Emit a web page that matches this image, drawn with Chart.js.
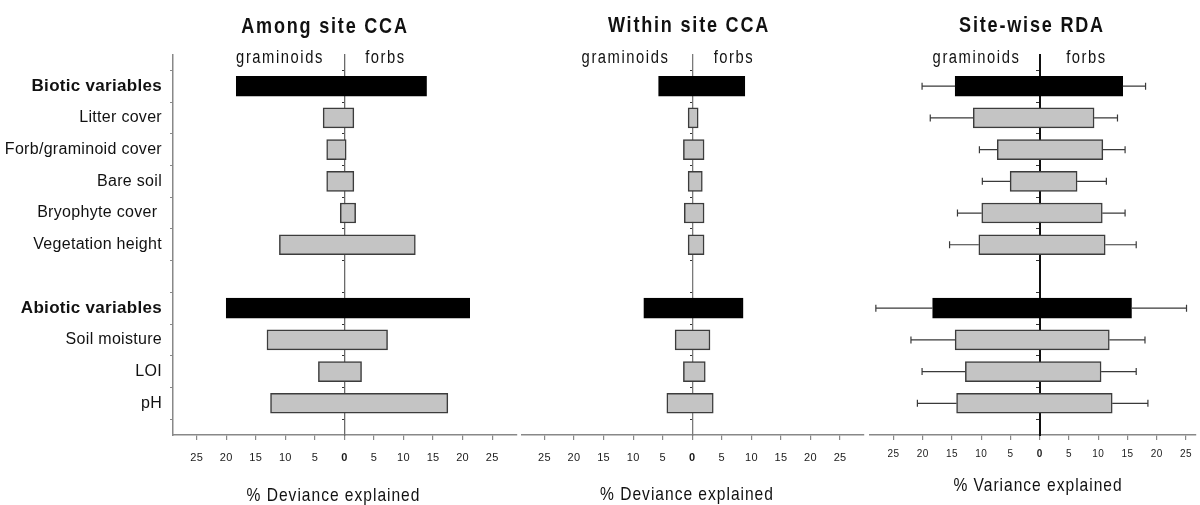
<!DOCTYPE html>
<html><head><meta charset="utf-8">
<script src="https://cdn.jsdelivr.net/npm/chart.js@4"></script>
<style>
html,body{margin:0;padding:0;background:#fff;width:1200px;height:505px;overflow:hidden}
.p{position:absolute;top:0;height:505px}
</style></head><body>
<div class="p" style="left:0;width:520px"><canvas id="c1"></canvas></div>
<div class="p" style="left:518px;width:350px"><canvas id="c2"></canvas></div>
<div class="p" style="left:866px;width:334px"><canvas id="c3"></canvas></div>
<script>
// ---------- data ----------
const categories = ['', 'Biotic variables', 'Litter cover', 'Forb/graminoid cover', 'Bare soil', 'Bryophyte cover ', 'Vegetation height', '', 'Abiotic variables', 'Soil moisture', 'LOI', 'pH', ''];
const groupRows = ['Biotic variables', 'Abiotic variables'];
const amongGram  = [null, 18.3, 3.6, 3.0, 3.0, 0.7, 11.0, null, 20.0, 13.1, 4.4, 12.5, null];
const amongForb  = [null, 13.9, 1.6, 0.3, 1.6, 1.9, 12.0, null, 21.2, 7.3, 2.9, 17.5, null];
const withinGram = [null, 5.7, 0.7, 1.5, 0.7, 1.35, 0.7, null, 8.2, 2.9, 1.5, 4.3, null];
const withinForb = [null, 8.9, 1.0, 2.0, 1.7, 2.0, 2.0, null, 8.6, 3.0, 2.2, 3.55, null];
const rdaGram    = [null, 14.45, 11.35, 7.25, 5.05, 9.9, 10.4, null, 18.3, 14.45, 12.7, 14.2, null];
const rdaForb    = [null, 14.2, 9.3, 10.8, 6.4, 10.7, 11.2, null, 15.7, 11.9, 10.5, 12.4, null];
const rdaGramErr = [null, 20.1, 18.7, 10.3, 9.8, 14.05, 15.4, null, 28.0, 22.0, 20.1, 20.9, null];
const rdaForbErr = [null, 18.1, 13.3, 14.6, 11.4, 14.6, 16.5, null, 25.1, 18.0, 16.5, 18.5, null];
const xTicks = [-25, -20, -15, -10, -5, 0, 5, 10, 15, 20, 25];
const panelTitles = ['Among site CCA', 'Within site CCA', 'Site-wise RDA'];
const sideLabels = ['graminoids', 'forbs'];
const axisTitles = ['% Deviance explained', '% Deviance explained', '% Variance explained'];

// ---------- helpers ----------
const FAM = "'Liberation Sans', Arial, sans-serif";
const NARROW = 0.82;
const isGroup = i => groupRows.includes(categories[i]);
const pairs = (g, f) => categories.map((c, i) => g[i] == null ? null : [-g[i], f[i]]);

const spacingPlugin = {
  id: 'spacing',
  beforeDraw(chart, args, opts) { chart.ctx.letterSpacing = (opts.ls || 0) + 'px'; }
};
const textPlugin = {
  id: 'panelText',
  afterDraw(chart, args, opts) {
    const ctx = chart.ctx;
    (opts.items || []).forEach(it => {
      ctx.save();
      ctx.letterSpacing = it.ls + 'px';
      ctx.font = (it.bold ? 'bold ' : '') + it.size + 'px ' + FAM;
      ctx.fillStyle = '#111';
      ctx.textAlign = 'center';
      ctx.textBaseline = 'alphabetic';
      ctx.translate(it.x, it.y);
      ctx.scale(NARROW, 1);
      ctx.fillText(it.text, 0, 0);
      ctx.restore();
    });
  }
};
const errPlugin = {
  id: 'errorBars',
  afterDatasetsDraw(chart, args, opts) {
    if (!opts.low) return;
    const ctx = chart.ctx, xs = chart.scales.x, ys = chart.scales.y;
    ctx.save();
    ctx.strokeStyle = '#3a3a3a';
    ctx.lineWidth = 1.2;
    categories.forEach((c, i) => {
      if (opts.low[i] == null) return;
      const y = ys.getPixelForValue(i);
      const segs = [[-opts.barLow[i], -opts.low[i]], [opts.barHigh[i], opts.high[i]]];
      segs.forEach(([a, b]) => {
        const xa = xs.getPixelForValue(a), xb = xs.getPixelForValue(b);
        ctx.beginPath();
        ctx.moveTo(xa, y); ctx.lineTo(xb, y);
        ctx.moveTo(xb, y - 3.5); ctx.lineTo(xb, y + 3.5);
        ctx.stroke();
      });
    });
    ctx.restore();
  }
};

function makeChart(id, gram, forb, cfg) {
  const scales = {
    x: {
      type: 'linear', position: 'bottom', min: cfg.min, max: cfg.max,
      afterBuildTicks: s => { s.ticks = xTicks.map(v => ({ value: v })); },
      afterFit: s => { s.height = 70; },
      ticks: {
        callback: v => Math.abs(v),
        color: '#1a1a1a', padding: cfg.tickPad,
        font: ctx => ({ family: FAM, size: cfg.tickSize, weight: (ctx.tick && ctx.tick.value === 0) ? 'bold' : 'normal' })
      },
      grid: { drawOnChartArea: false, drawTicks: true, tickLength: 5, color: '#888', lineWidth: 1.2 },
      border: { color: '#888', width: 1.5 }
    },
    y: {
      type: 'category', position: { x: 0 }, offset: false, z: 1,
      ticks: { display: false },
      grid: { drawOnChartArea: false, drawTicks: true, tickLength: cfg.zeroTick, color: '#333', lineWidth: 1 },
      border: { color: cfg.zeroColor, width: cfg.zeroWidth }
    }
  };
  if (cfg.leftAxis) {
    scales.yl = {
      type: 'category', position: 'left', offset: false,
      afterFit: s => { s.width = 173; },
      ticks: {
        autoSkip: false, color: '#111', padding: 8,
        font: ctx => isGroup(ctx.index) ? { family: FAM, size: 17, weight: 'bold' } : { family: FAM, size: 16, weight: 'normal' }
      },
      grid: { drawOnChartArea: false, drawTicks: true, tickLength: 3, color: '#888', lineWidth: 1 },
      border: { color: '#888', width: 1.5 }
    };
  }
  const plugins = {
    legend: { display: false }, tooltip: { enabled: false }, title: { display: false },
    spacing: { ls: 0.3 },
    panelText: { items: cfg.texts },
    errorBars: cfg.err || {}
  };
  return new Chart(document.getElementById(id), {
    type: 'bar',
    data: {
      labels: categories,
      datasets: [{
        data: pairs(gram, forb),
        yAxisID: cfg.leftAxis ? 'yl' : 'y',
        barThickness: 20,
        borderSkipped: false,
        borderWidth: 1.5,
        backgroundColor: ctx => isGroup(ctx.dataIndex) ? '#000000' : '#c4c4c4',
        borderColor: ctx => isGroup(ctx.dataIndex) ? '#000000' : '#3c3c3c'
      }]
    },
    options: {
      indexAxis: 'y', responsive: true, maintainAspectRatio: false, animation: false,
      layout: { padding: cfg.padding },
      scales, plugins
    },
    plugins: [spacingPlugin, textPlugin, errPlugin]
  });
}

const T = (text, x, y, size, ls, bold) => ({ text, x, y, size, ls, bold });
const TOP = 54.5;

makeChart('c1', amongGram, amongForb, {
  min: -29, max: 29.2, leftAxis: true, tickSize: 11, tickPad: 11.5,
  zeroColor: '#6a6a6a', zeroWidth: 1.3, zeroTick: 2,
  padding: { left: 0, right: 3, top: TOP, bottom: 0 },
  texts: [T(panelTitles[0], 325, 33, 22, 2.2, true), T(sideLabels[0], 280, 63, 18, 1.9), T(sideLabels[1], 385.5, 63, 18, 1.9), T(axisTitles[0], 333.5, 501, 19, 1.2)]
});
makeChart('c2', withinGram, withinForb, {
  min: -28.8, max: 29.05, leftAxis: false, tickSize: 11, tickPad: 11.5,
  zeroColor: '#7a7a7a', zeroWidth: 1.3, zeroTick: 2,
  padding: { left: 4, right: 4, top: TOP, bottom: 0 },
  texts: [T(panelTitles[1], 171, 32, 22, 2.2, true), T(sideLabels[0], 107.5, 63, 18, 1.9), T(sideLabels[1], 216, 63, 18, 1.9), T(axisTitles[1], 169, 500, 19, 1.2)]
});
makeChart('c3', rdaGram, rdaForb, {
  min: -29, max: 26.65, leftAxis: false, tickSize: 10, tickPad: 8.5,
  zeroColor: '#111111', zeroWidth: 2, zeroTick: 3,
  padding: { left: 4, right: 0, top: TOP, bottom: 0 },
  err: { low: rdaGramErr, high: rdaForbErr, barLow: rdaGram, barHigh: rdaForb },
  texts: [T(panelTitles[2], 166, 32, 22, 2.2, true), T(sideLabels[0], 110.5, 63, 18, 1.9), T(sideLabels[1], 220.5, 63, 18, 1.9), T(axisTitles[2], 172, 491, 19, 1.2)]
});
</script>
</body></html>
